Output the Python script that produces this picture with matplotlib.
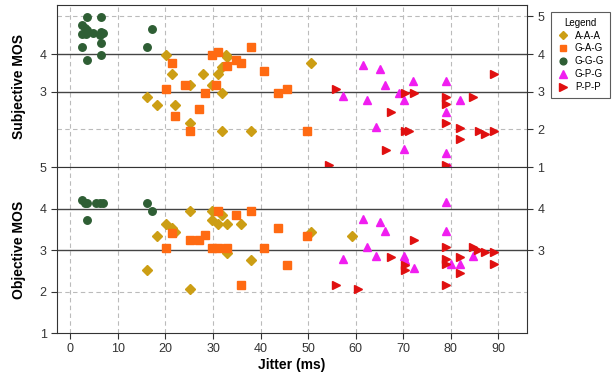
import matplotlib
matplotlib.use("Agg")
import matplotlib.pyplot as plt
from matplotlib.lines import Line2D

plt.rcParams['font.family'] = ['Liberation Sans', 'DejaVu Sans']

# Subjective MOS (top panel)
aaa_subj_x = [20.2, 21.3, 27.9, 31.1, 32.8, 32.9, 31.9, 25.1, 29.8, 31.9, 16.1, 18.2, 22.1, 25.1, 31.9, 37.9, 50.7]
aaa_subj_y = [3.98, 3.46, 3.46, 3.46, 3.97, 3.91, 3.66, 3.17, 3.17, 2.97, 2.86, 2.66, 2.66, 2.16, 1.95, 1.95, 3.76]
gag_subj_x = [37.9, 29.8, 31.1, 21.3, 32.9, 34.9, 35.8, 40.7, 24.1, 30.7, 20.2, 28.3, 43.7, 27.1, 22.1, 25.1, 45.6, 49.8]
gag_subj_y = [4.19, 3.97, 4.05, 3.76, 3.68, 3.85, 3.76, 3.55, 3.17, 3.17, 3.06, 2.97, 2.97, 2.55, 2.36, 1.95, 3.06, 1.95]
ggg_subj_x = [3.5, 6.5, 2.5, 3.05, 3.5, 2.5, 3.4, 4.8, 6.5, 6.9, 6.2, 2.5, 6.5, 3.5, 6.5, 17.2, 16.1]
ggg_subj_y = [4.98, 4.98, 4.78, 4.69, 4.63, 4.54, 4.54, 4.57, 4.58, 4.57, 4.5, 4.19, 4.28, 3.85, 3.98, 4.67, 4.19]
gpg_subj_x = [61.5, 65.2, 66.2, 72.0, 79.0, 57.4, 62.3, 69.2, 70.1, 82.0, 79.0, 64.3, 70.1, 79.0, 79.7]
gpg_subj_y = [3.70, 3.59, 3.19, 3.28, 3.28, 2.88, 2.77, 2.97, 2.77, 2.77, 2.46, 2.07, 1.48, 1.38, 1.0]
ppp_subj_x = [89.0, 55.8, 70.3, 72.2, 79.0, 84.7, 79.0, 67.5, 79.0, 82.0, 70.3, 71.3, 86.0, 87.1, 89.0, 82.0, 66.4, 54.4, 79.0]
ppp_subj_y = [3.46, 3.06, 2.97, 2.97, 2.86, 2.86, 2.67, 2.45, 2.16, 2.04, 1.95, 1.95, 1.95, 1.87, 1.95, 1.74, 1.45, 1.05, 1.05]

# Objective MOS (bottom panel)
aaa_obj_x = [25.1, 29.8, 29.8, 31.1, 31.9, 33.0, 35.8, 20.2, 21.3, 22.1, 18.2, 33.0, 37.9, 16.1, 25.1, 50.7, 59.3]
aaa_obj_y = [3.95, 3.95, 3.72, 3.64, 3.84, 3.64, 3.64, 3.64, 3.52, 3.44, 3.34, 2.93, 2.76, 2.53, 2.05, 3.44, 3.34]
gag_obj_x = [31.1, 34.9, 37.9, 21.3, 28.3, 25.1, 27.1, 20.2, 29.8, 31.1, 33.0, 40.7, 43.7, 35.8, 49.8, 45.6]
gag_obj_y = [3.95, 3.84, 3.95, 3.42, 3.36, 3.24, 3.24, 3.04, 3.04, 3.04, 3.04, 3.04, 3.54, 2.16, 3.34, 2.64]
ggg_obj_x = [2.5, 3.05, 3.5, 5.3, 6.2, 6.9, 3.5, 16.1, 17.2]
ggg_obj_y = [4.20, 4.14, 4.14, 4.14, 4.14, 4.14, 3.72, 4.14, 3.94]
gpg_obj_x = [79.0, 61.5, 65.2, 66.2, 79.0, 62.3, 64.3, 57.4, 70.1, 70.3, 72.2, 80.1, 82.0, 84.7]
gpg_obj_y = [4.16, 3.74, 3.67, 3.46, 3.46, 3.07, 2.86, 2.78, 2.86, 2.76, 2.56, 2.66, 2.66, 2.86]
ppp_obj_x = [72.2, 79.0, 84.7, 85.7, 87.1, 89.0, 67.5, 82.0, 79.0, 79.0, 70.3, 70.3, 82.0, 89.0, 55.8, 60.5, 79.0]
ppp_obj_y = [3.24, 3.07, 3.07, 3.00, 2.96, 2.96, 2.84, 2.84, 2.78, 2.66, 2.64, 2.53, 2.45, 2.66, 2.16, 2.05, 2.16]

labels = ['A-A-A', 'G-A-G', 'G-G-G', 'G-P-G', 'P-P-P']
markers = ['D', 's', 'o', '^', '>']
colors = ['#CC9E14', '#FF6A12', '#2E5E34', '#F01EF0', '#E01010']
sizes = [4.8, 5.2, 5.4, 5.8, 5.8]

subj = [(aaa_subj_x, aaa_subj_y), (gag_subj_x, gag_subj_y), (ggg_subj_x, ggg_subj_y),
        (gpg_subj_x, gpg_subj_y), (ppp_subj_x, ppp_subj_y)]
obj = [(aaa_obj_x, aaa_obj_y), (gag_obj_x, gag_obj_y), (ggg_obj_x, ggg_obj_y),
       (gpg_obj_x, gpg_obj_y), (ppp_obj_x, ppp_obj_y)]

fig = plt.figure(figsize=(6.16, 3.85), dpi=100)
ax1 = fig.add_axes([0.0925, 0.566, 0.763, 0.421])
ax2 = fig.add_axes([0.0925, 0.135, 0.763, 0.431], sharex=ax1)

for ax, data in [(ax1, subj), (ax2, obj)]:
    for (x, y), m, c, s in zip(data, markers, colors, sizes):
        ax.plot(x, y, linestyle='none', marker=m, color=c, markersize=s, zorder=3)
    ax.set_xlim(-2.8, 96)
    for gx in range(0, 100, 10):
        ax.axvline(gx, color='#BBBBBB', linestyle=(0, (4, 3)), linewidth=0.8, zorder=1)
    for gy in [3, 4]:
        ax.axhline(gy, color='#444444', linewidth=1.0, zorder=1)
    ax.axhline(2, color='#BBBBBB', linestyle=(0, (4, 3)), linewidth=0.8, zorder=1)
    for sp in ax.spines.values():
        sp.set_color('#333333')
    ax.tick_params(axis='both', labelsize=9, colors='#333333', length=4, width=0.8)

ax1.axhline(5, color='#BBBBBB', linestyle=(0, (4, 3)), linewidth=0.8, zorder=1)
ax1.set_ylim(1, 5.3)
ax2.set_ylim(1, 5)
ax1.set_yticks([3, 4])
ax2.set_yticks([1, 2, 3, 4, 5])
ax1.tick_params(axis='x', bottom=False, labelbottom=False)
ax2.set_xticks(range(0, 100, 10))

r1 = ax1.twinx()
r1.set_ylim(ax1.get_ylim())
r1.set_yticks([1, 2, 3, 4, 5])
r2 = ax2.twinx()
r2.set_ylim(ax2.get_ylim())
r2.set_yticks([3, 4])
for r in [r1, r2]:
    r.tick_params(axis='y', labelsize=9, colors='#333333', length=4, width=0.8)
    for sp in r.spines.values():
        sp.set_visible(False)

ax1.set_ylabel('Subjective MOS', fontsize=10, fontweight='bold', labelpad=10)
ax2.set_ylabel('Objective MOS', fontsize=10, fontweight='bold', labelpad=10)
ax2.set_xlabel('Jitter (ms)', fontsize=10, fontweight='bold', labelpad=2)

handles = [Line2D([], [], linestyle='none', marker=m, color=c, markersize=s * 0.9)
           for m, c, s in zip(markers, colors, sizes)]
leg = fig.legend(handles, labels, title='Legend', loc='upper left',
                 bbox_to_anchor=(0.886, 0.982), fontsize=7, title_fontsize=7,
                 frameon=True, fancybox=False, edgecolor='#333333',
                 handletextpad=0.5, borderpad=0.6, labelspacing=0.3, handlelength=1.4)
leg.get_frame().set_linewidth(0.8)

fig.savefig('out.png', dpi=100)
